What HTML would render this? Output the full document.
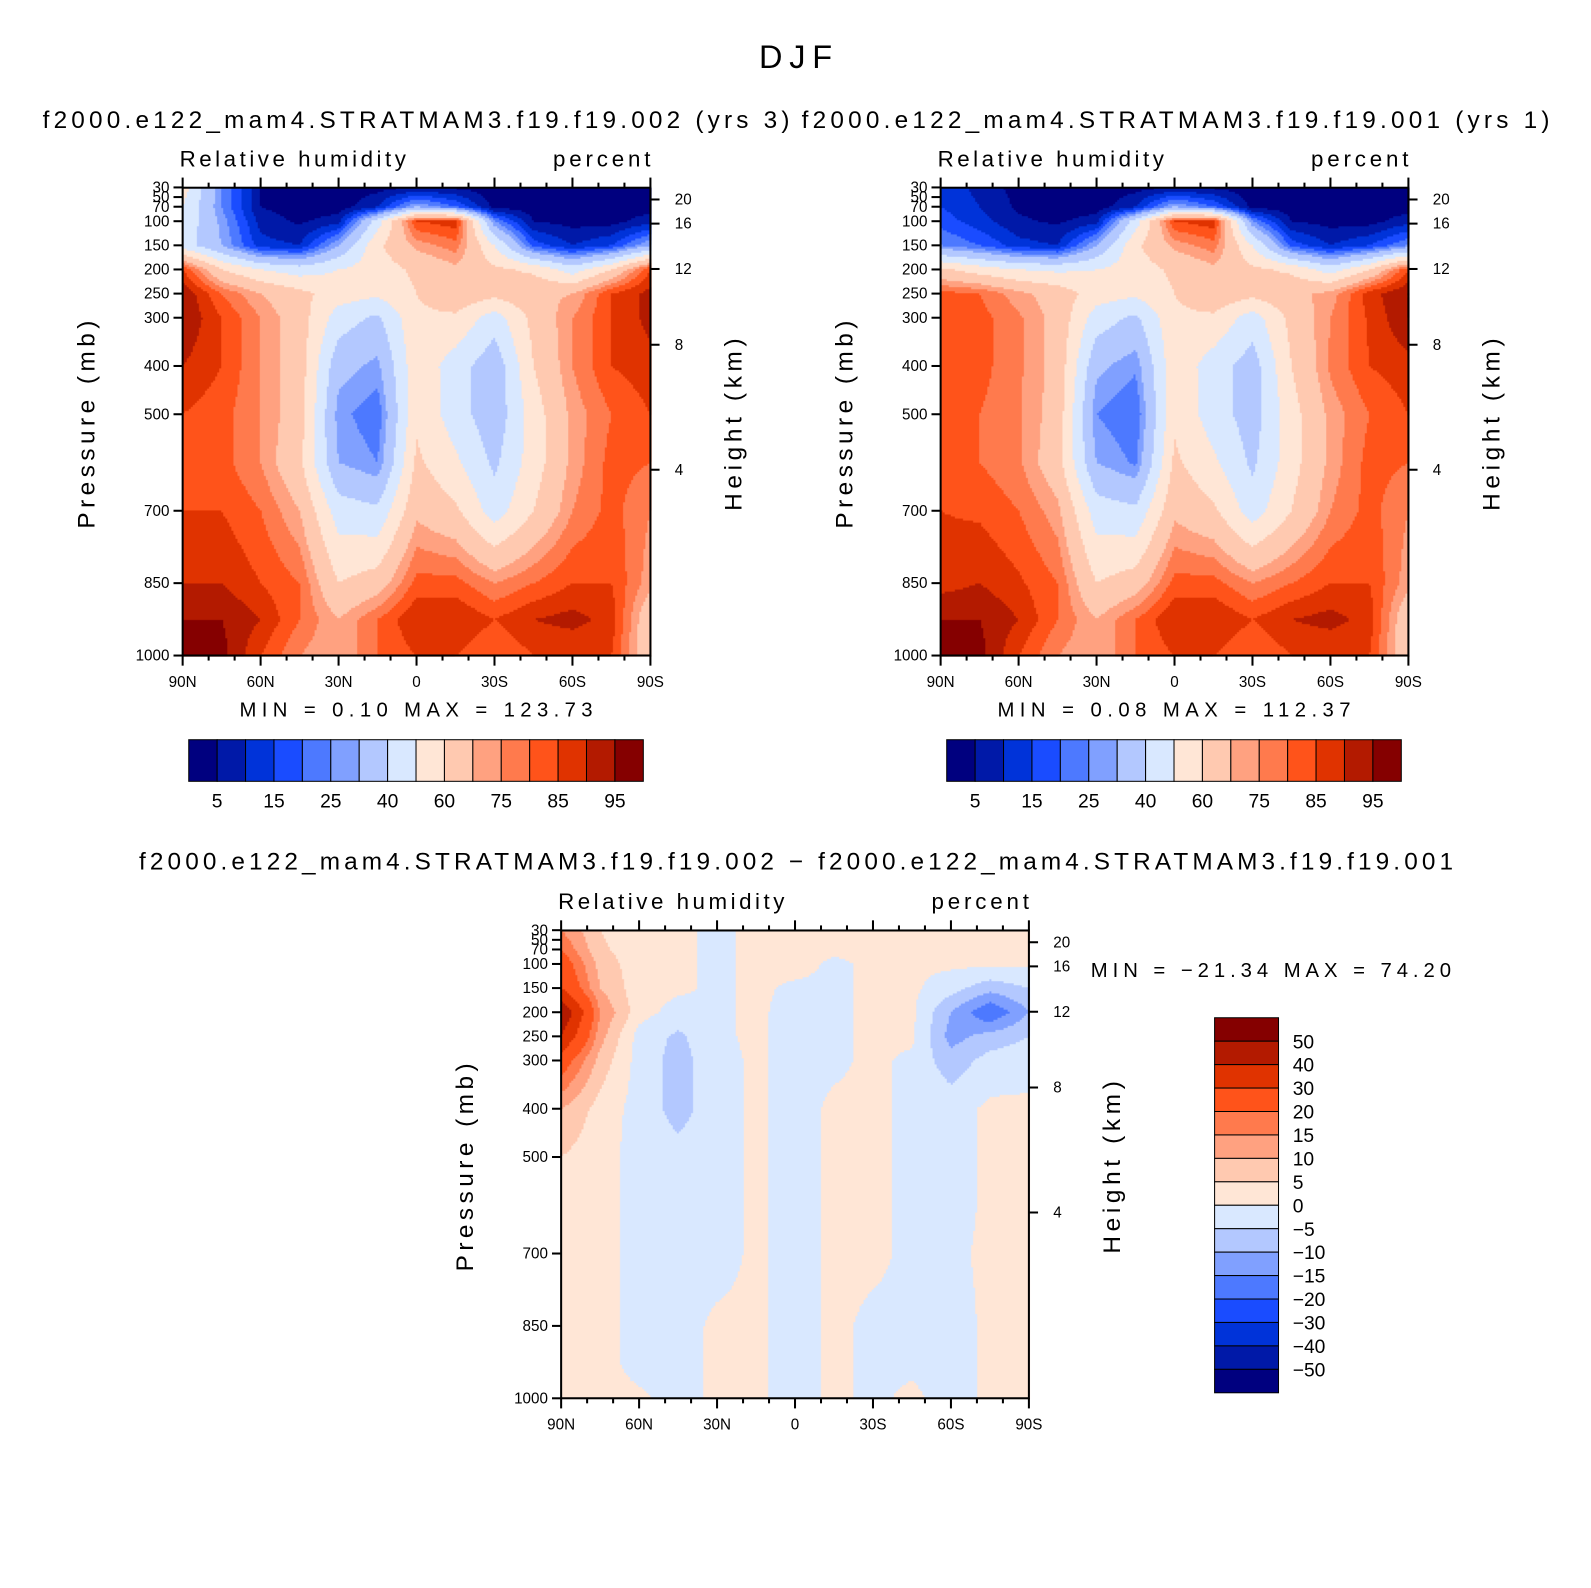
<!DOCTYPE html>
<html><head><meta charset="utf-8">
<style>
body{margin:0;background:#fff;width:1591px;height:1588px;position:relative;overflow:hidden;font-family:"Liberation Sans",sans-serif}
#wrap{position:absolute;left:0;top:0;width:1568px;height:1565px;transform:scale(1.0147);transform-origin:0 0}
canvas{position:absolute;left:0;top:0}
svg{position:absolute;left:0;top:0}
</style></head>
<body>
<div id="wrap">
<canvas id="cv" width="1568" height="1565"></canvas>
<svg id="sv" width="1568" height="1565"></svg>
</div>
<script>
const lats=['90N','75N','60N','45N','30N','15N','0','15S','30S','45S','60S','75S','90S'];
const levels=[30,70,100,150,200,250,300,400,500,600,700,850,925,1000];
const rh1=[
[55,25,5,2,2,3,5,4,2,2,2,2,2],
[50,25,5,2,2,10,30,20,3,2,2,2,2],
[48,28,8,4,8,45,85,88,25,5,3,3,8],
[45,30,12,10,30,58,72,78,50,18,10,15,30],
[85,60,50,45,50,55,62,68,62,58,45,60,85],
[95,80,70,63,55,52,60,68,63,68,70,85,92],
[95,85,75,65,45,38,58,58,45,63,75,85,92],
[90,85,75,65,33,28,57,45,33,60,75,85,88],
[85,82,75,65,27,21,58,45,33,55,72,80,85],
[85,82,75,62,30,25,62,52,38,55,72,82,80],
[85,85,80,70,45,42,68,62,45,60,75,82,75],
[90,90,85,80,60,65,82,82,75,80,85,85,72],
[95,95,90,80,70,80,90,90,85,90,92,88,62],
[97,97,85,75,70,80,85,85,80,85,85,85,62]];
const rh2=[
[15,8,3,2,2,3,5,4,2,2,2,2,2],
[15,10,4,2,2,10,30,20,3,2,2,2,2],
[18,12,6,4,8,45,85,88,25,5,3,3,8],
[25,20,12,10,30,58,72,78,50,18,10,15,25],
[62,55,50,48,50,55,62,68,62,58,45,60,85],
[82,80,72,66,55,52,60,68,63,68,72,88,95],
[84,82,76,67,45,38,58,58,45,63,75,86,95],
[84,82,76,67,32,26,57,45,35,60,76,85,88],
[82,80,76,66,25,20,58,45,35,56,72,80,85],
[82,80,76,64,30,24,62,52,38,56,72,82,80],
[85,84,80,72,45,42,68,62,45,60,75,82,75],
[88,90,86,80,60,65,82,82,75,80,85,85,72],
[95,95,90,80,70,80,90,90,85,90,92,88,62],
[97,97,85,75,70,80,85,85,80,85,85,85,62]];
const diff=[
[15,5,2,1,-1,1,1,1,1,1,1,1,1],
[20,6,2,1,-1,1,1,1,1,1,1,1,1],
[25,8,2,1,-1,1,2,-1,1,1,1,1,1],
[30,10,2,1,-1,1,-1,-1,1,1,-3,-8,-5],
[50,15,2,-2,-1,1,-2,-1,1,1,-10,-20,-10],
[40,12,-2,-6,-1,1,-2,-1,1,1,-12,-8,-5],
[25,8,-2,-7,-2,1,-2,-1,1,-1,-8,-3,-2],
[10,3,-2,-7,-2,1,-2,1,1,-1,-2,1,1],
[5,2,-2,-3,-2,1,-2,1,1,-1,-2,1,1],
[5,2,-2,-4,-2,1,-2,1,1,-1,-2,1,1],
[4,2,-2,-2,-2,1,-2,1,1,-1,-1,1,1],
[5,2,-2,-2,1,1,-2,1,-1,-1,-2,1,1],
[5,2,-2,-2,1,1,-2,1,-1,-1,-2,1,1],
[5,2,1,-2,1,1,-2,1,-1,1,-2,1,1]];
const rhBounds=[5,10,15,20,25,30,40,50,60,70,75,80,85,90,95];
const rhLabels=['5','15','25','40','60','75','85','95'];
const dBounds=[-50,-40,-30,-20,-15,-10,-5,0,5,10,15,20,30,40,50];
const dLabels=['50','40','30','20','15','10','5','0','−5','−10','−15','−20','−30','−40','−50'];
const pTicks=[30,50,70,100,150,200,250,300,400,500,700,850,1000];
const hTicks=['20','16','12','8','4'];
const hTickP=[55,105,199,356,615];
const xTicks=['90N','60N','30N','0','30S','60S','90S'];
const colors=['#00007f','#0019a8','#0033d9','#1a4cff','#4d79ff','#80a0ff','#b3c8ff','#d9e8ff','#ffe6d6','#ffc9b0','#ffa180','#ff7a4d','#ff531a','#e03300','#b31a00','#850000'];

const cv=document.getElementById('cv'),ctx=cv.getContext('2d');
ctx.fillStyle='#fff';ctx.fillRect(0,0,1568,1565);
const sv=document.getElementById('sv');
const NS='http://www.w3.org/2000/svg';
function el(t,a,txt){const e=document.createElementNS(NS,t);for(const k in a)e.setAttribute(k,a[k]);if(txt!==undefined)e.textContent=txt;sv.appendChild(e);return e;}
function bin(v,b){let i=0;while(i<b.length&&v>=b[i])i++;return i;}
function sample(data,fi,p){
  let j=0;while(j<levels.length-2&&p>levels[j+1])j++;
  let t=(p-levels[j])/(levels[j+1]-levels[j]);t=Math.max(0,Math.min(1,t));
  const i0=Math.min(Math.floor(fi),lats.length-2),u=fi-i0;
  const a=data[j][i0]*(1-u)+data[j][i0+1]*u,b=data[j+1][i0]*(1-u)+data[j+1][i0+1]*u;
  return a*(1-t)+b*t;
}
function panel(x0,y0,data,bounds,nm){
  const W=461,H=461;
  const yOf=p=>y0+33+(p-100)*0.4756;
  const pOf=y=>100+(y-y0-33)/0.4756;
  const st=2;
  for(let y=y0;y<y0+H;y+=st)for(let x=x0;x<x0+W;x+=st){
    const fi=(x+st/2-x0)/W*(lats.length-1);
    const v=sample(data,fi,pOf(y+st/2));
    ctx.fillStyle=colors[bin(v,bounds)];ctx.fillRect(x,y,st,st);
  }
  const r=el('rect',{x:x0,y:y0,width:W,height:H,fill:'none',stroke:'#000','stroke-width':2});
  
  pTicks.forEach(p=>{const y=yOf(p);
    el('line',{x1:x0-9,x2:x0,y1:y,y2:y,stroke:'#000','stroke-width':2});
    const t=el('text',{x:x0-13,y:y+5,'text-anchor':'end','font-size':15},String(p));
    });
  hTicks.forEach((h,k)=>{const y=yOf(hTickP[k]);
    el('line',{x1:x0+W,x2:x0+W+9,y1:y,y2:y,stroke:'#000','stroke-width':2});
    const t=el('text',{x:x0+W+24,y:y+5,'font-size':15},h);
    });
  for(let k=0;k<=18;k++){const x=x0+W*k/18,len=k%3==0?10:5;
    el('line',{x1:x,x2:x,y1:y0+H,y2:y0+H+len,stroke:'#000','stroke-width':2});
    el('line',{x1:x,x2:x,y1:y0,y2:y0-len,stroke:'#000','stroke-width':2});}
  xTicks.forEach((l,k)=>{const t=el('text',{x:x0+W*k/6,y:y0+H+31,'text-anchor':'middle','font-size':15},l);
    });
  let t=el('text',{x:x0-3,y:y0-21,'font-size':22,textLength:223,lengthAdjust:'spacing'},'Relative humidity');
  t=el('text',{x:x0+W-96,y:y0-21,'font-size':22,textLength:96,lengthAdjust:'spacing'},'percent');
  t=el('text',{x:0,y:0,'font-size':24,'text-anchor':'middle',textLength:205,lengthAdjust:'spacing',transform:`translate(${x0-87},${y0+H/2+3}) rotate(-90)`},'Pressure (mb)');
  t=el('text',{x:0,y:0,'font-size':24,'text-anchor':'middle',textLength:170,lengthAdjust:'spacing',transform:`translate(${x0+W+90},${y0+H/2+3}) rotate(-90)`},'Height (km)');
}
panel(180,185,rh1,rhBounds,'case1');
panel(927,185,rh2,rhBounds,'case2');
panel(553,917,diff,dBounds,'difference');

function hbar(x0,y0){
  for(let i=0;i<16;i++){const r=el('rect',{x:x0+i*28,y:y0,width:28,height:41,fill:colors[i],stroke:'#000','stroke-width':1});
    }
  rhLabels.forEach((l,k)=>{const t=el('text',{x:x0+28*(2*k+1),y:y0+67,'text-anchor':'middle','font-size':19},l);
    });
}
hbar(186,729);hbar(933,729);
for(let i=0;i<16;i++){const r=el('rect',{x:1197,y:1003+i*23.1,width:63,height:23.1,fill:colors[15-i],stroke:'#000','stroke-width':1});
  }
dLabels.forEach((l,k)=>{const t=el('text',{x:1274,y:1003+23.1*(k+1)+7,'font-size':19},l);
  });

const texts=[
 ['page-title',748,67,32,72,'DJF'],
 ['case1-title',42,126,24,736,'f2000.e122_mam4.STRATMAM3.f19.f19.002 (yrs 3)'],
 ['case2-title',790,126,24,737,'f2000.e122_mam4.STRATMAM3.f19.f19.001 (yrs 1)'],
 ['case1-minmax',236,706,20,348,'MIN =    0.10   MAX = 123.73'],
 ['case2-minmax',983,706,20,348,'MIN =    0.08   MAX = 112.37'],
 ['difference-title',137,857,24,1295,'f2000.e122_mam4.STRATMAM3.f19.f19.002 − f2000.e122_mam4.STRATMAM3.f19.f19.001'],
 ['difference-minmax',1075,963,20,355,'MIN = −21.34   MAX =   74.20']];
texts.forEach(a=>{const t=el('text',{x:a[1],y:a[2],'font-size':a[3],textLength:a[4],lengthAdjust:'spacing'},a[5]);
  });
</script>
</body></html>
